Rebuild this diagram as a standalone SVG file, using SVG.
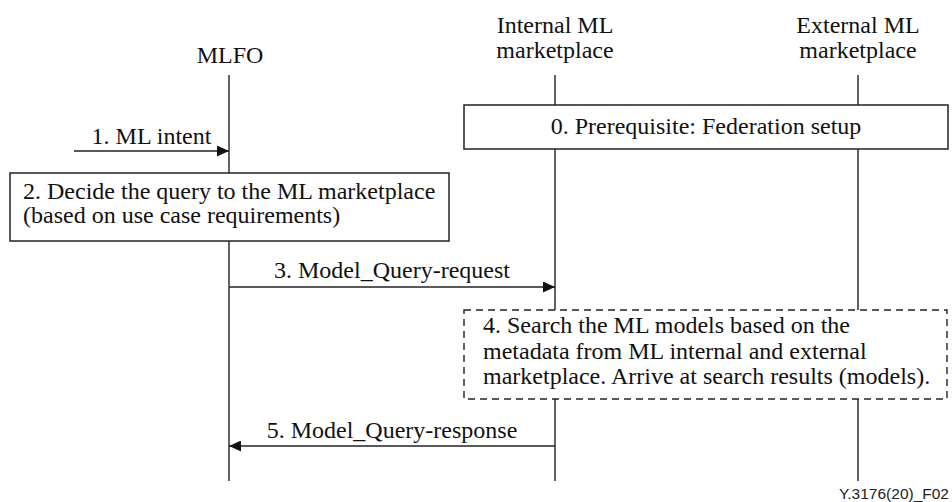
<svg xmlns="http://www.w3.org/2000/svg" width="952" height="502" viewBox="0 0 952 502">
<style>
  text { font-family: "Liberation Serif", "Times New Roman", serif; font-size: 24px; fill: #111; }
  .c { text-anchor: middle; }
  .life { stroke: #222; stroke-width: 1.4; fill: none; }
  .box { fill: #fff; stroke: #222; stroke-width: 1.5; }
  .dbox { fill: #fff; stroke: #222; stroke-width: 1.4; stroke-dasharray: 7 5; }
  .msg { stroke: #222; stroke-width: 1.4; fill: none; marker-end: url(#arr); }
  .foot { font-family: "Liberation Sans", Arial, sans-serif; font-size: 15.5px; text-anchor: end; fill: #222; }
</style>
<defs>
  <marker id="arr" markerWidth="13" markerHeight="11" refX="12" refY="5.5" orient="auto" markerUnits="userSpaceOnUse">
    <path d="M0,0 L12,5.5 L0,11 Z" fill="#111"/>
  </marker>
</defs>
<rect width="952" height="502" fill="#fff"/>

<g id="lifelines">
  <line class="life" x1="229" y1="75" x2="229" y2="481"/>
  <line class="life" x1="555" y1="75" x2="555" y2="481"/>
  <line class="life" x1="858" y1="75" x2="858" y2="481"/>
</g>

<g id="mlfo">
  <text class="c" x="230" y="63">MLFO</text>
</g>
<g id="internal">
  <text class="c" x="555" y="33">Internal ML</text>
  <text class="c" x="555" y="58">marketplace</text>
</g>
<g id="external">
  <text class="c" x="858" y="33">External ML</text>
  <text class="c" x="858" y="58">marketplace</text>
</g>

<g id="step0">
  <rect class="box" x="464" y="105" width="484" height="44"/>
  <text class="c" x="706" y="134">0. Prerequisite: Federation setup</text>
</g>

<g id="step2">
  <rect class="box" x="10" y="173" width="439" height="68"/>
  <text x="23" y="199">2. Decide the query to the ML marketplace</text>
  <text x="23" y="223">(based on use case requirements)</text>
</g>

<g id="step4">
  <rect class="dbox" x="464" y="310" width="483" height="89"/>
  <text x="483" y="333">4. Search the ML models based on the</text>
  <text x="483" y="358.5">metadata from ML internal and external</text>
  <text x="483" y="384">marketplace. Arrive at search results (models).</text>
</g>

<g id="connectors">
  <line class="msg" x1="74" y1="151" x2="229" y2="151"/>
  <text class="c" x="151.5" y="144">1. ML intent</text>
  <line class="msg" x1="229" y1="287" x2="555" y2="287"/>
  <text class="c" x="392" y="278">3. Model_Query-request</text>
  <line class="msg" x1="555" y1="446" x2="229" y2="446"/>
  <text class="c" x="392" y="438">5. Model_Query-response</text>
</g>

<text class="foot" x="949" y="499">Y.3176(20)_F02</text>
</svg>
